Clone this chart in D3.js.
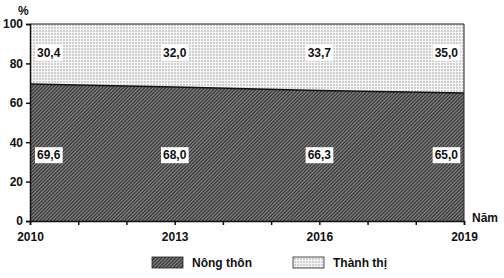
<html>
<head>
<meta charset="utf-8">
<script src="https://d3js.org/d3.v7.min.js"></script>
<style>
  body { margin: 0; background: #fff; }
  text { font-family: "Liberation Sans", Arial, sans-serif; font-weight: bold; }
</style>
</head>
<body>
<script>
var years = [2010, 2013, 2016, 2019];
var rural = [69.6, 68.0, 66.3, 65.0];
var urban = [30.4, 32.0, 33.7, 35.0];
var yTicks = [0, 20, 40, 60, 80, 100];
var legendNames = ["Nông thôn", "Thành thị"];

var width = 504, height = 278;
var plotL = 30, plotR = 464, plotT = 24, plotB = 221;

var svg = d3.select("body").append("svg")
  .attr("width", width)
  .attr("height", height);

var defs = svg.append("defs");
// fine diagonal hatch for rural
var hatch = defs.append("pattern").attr("id", "hatch")
  .attr("patternUnits", "userSpaceOnUse").attr("width", 2.5).attr("height", 2.5)
  .attr("patternTransform", "rotate(45)");
hatch.append("rect").attr("width", 2.5).attr("height", 2.5).attr("fill", "#3c3c3c");
hatch.append("rect").attr("width", 1).attr("height", 2.5).attr("fill", "#8c8c8c");
// dotted grid for urban
var dots = defs.append("pattern").attr("id", "dots")
  .attr("patternUnits", "userSpaceOnUse").attr("width", 3).attr("height", 3);
dots.append("rect").attr("width", 3).attr("height", 3).attr("fill", "#f6f6f6");
dots.append("rect").attr("width", 2).attr("height", 2).attr("fill", "#cfcfcf");

var x = d3.scaleLinear().domain([2010, 2019]).range([plotL, plotR]);
var y = d3.scaleLinear().domain([0, 100]).range([plotB, plotT]);

var data = years.map(function(d, i) { return {year: d, rural: rural[i], urban: urban[i]}; });

// urban area (from rural to 100)
svg.append("path").datum(data)
  .attr("fill", "url(#dots)")
  .attr("d", d3.area().x(function(d) { return x(d.year); })
    .y0(function(d) { return y(d.rural); }).y1(y(100)));

svg.append("path").datum(data)
  .attr("fill", "url(#hatch)")
  .attr("d", d3.area().x(function(d) { return x(d.year); })
    .y0(y(0)).y1(function(d) { return y(d.rural); }));

svg.append("path").datum(data)
  .attr("fill", "none").attr("stroke", "#111").attr("stroke-width", 1.5)
  .attr("d", d3.line().x(function(d) { return x(d.year); }).y(function(d) { return y(d.rural); }));

// frame
svg.append("path")
  .attr("d", "M" + plotL + "," + plotT + "H" + plotR + "V" + plotB)
  .attr("fill", "none").attr("stroke", "#222").attr("stroke-width", 1);

// axes
var yAxis = svg.append("g").attr("transform", "translate(" + plotL + ",0)")
  .call(d3.axisLeft(y).tickValues(yTicks).tickSize(4).tickPadding(3));
var xAxis = svg.append("g").attr("transform", "translate(0," + plotB + ")")
  .call(d3.axisBottom(x).tickValues(d3.range(2010, 2020)).tickSize(4).tickPadding(7)
    .tickFormat(function(d) { return years.indexOf(d) >= 0 ? d : ""; }));
[yAxis, xAxis].forEach(function(g) {
  g.select(".domain").attr("stroke", "#111").attr("stroke-width", 1.5);
  g.selectAll(".tick line").attr("stroke", "#111").attr("stroke-width", 1.5);
  g.selectAll("text").attr("fill", "#111").style("font-size", "12px")
    .style("font-family", "Liberation Sans, Arial, sans-serif").style("font-weight", "bold");
});

svg.append("text").attr("x", 18).attr("y", 15).text("%")
  .style("font-size", "12px").attr("fill", "#111");
svg.append("text").attr("x", 472).attr("y", 222).text("Năm")
  .style("font-size", "12px").attr("fill", "#111");

// value labels
function label(xp, yp, txt, anchor) {
  var t = svg.append("text").attr("x", xp).attr("y", yp).attr("dy", "0.35em")
    .attr("text-anchor", anchor).style("font-size", "12px").attr("fill", "#111")
    .text(txt);
  var b = t.node().getBBox();
  svg.insert("rect", function() { return t.node(); })
    .attr("x", b.x - 2).attr("y", b.y - 1).attr("width", b.width + 4).attr("height", b.height + 2)
    .attr("fill", "#fff");
}
var fmt = function(v) { return v.toFixed(1).replace(".", ","); };
data.forEach(function(d, i) {
  var anchor = i === 0 ? "start" : (i === data.length - 1 ? "end" : "middle");
  var xp = i === 0 ? x(d.year) + 7 : (i === data.length - 1 ? x(d.year) - 6 : x(d.year));
  label(xp, y(85.5), fmt(d.urban), anchor);
  label(xp, y(33.5), fmt(d.rural), anchor);
});

// legend
var leg = svg.append("g");
var legX = [152, 293];
var legFill = ["url(#hatch)", "url(#dots)"];
legendNames.forEach(function(n, i) {
  leg.append("rect").attr("x", legX[i]).attr("y", 257).attr("width", 31).attr("height", 11)
    .attr("fill", legFill[i]).attr("stroke", "#222").attr("stroke-width", 0.8);
  leg.append("text").attr("x", legX[i] + 40).attr("y", 267).text(n)
    .style("font-size", "12px").attr("fill", "#111");
});
</script>
</body>
</html>
